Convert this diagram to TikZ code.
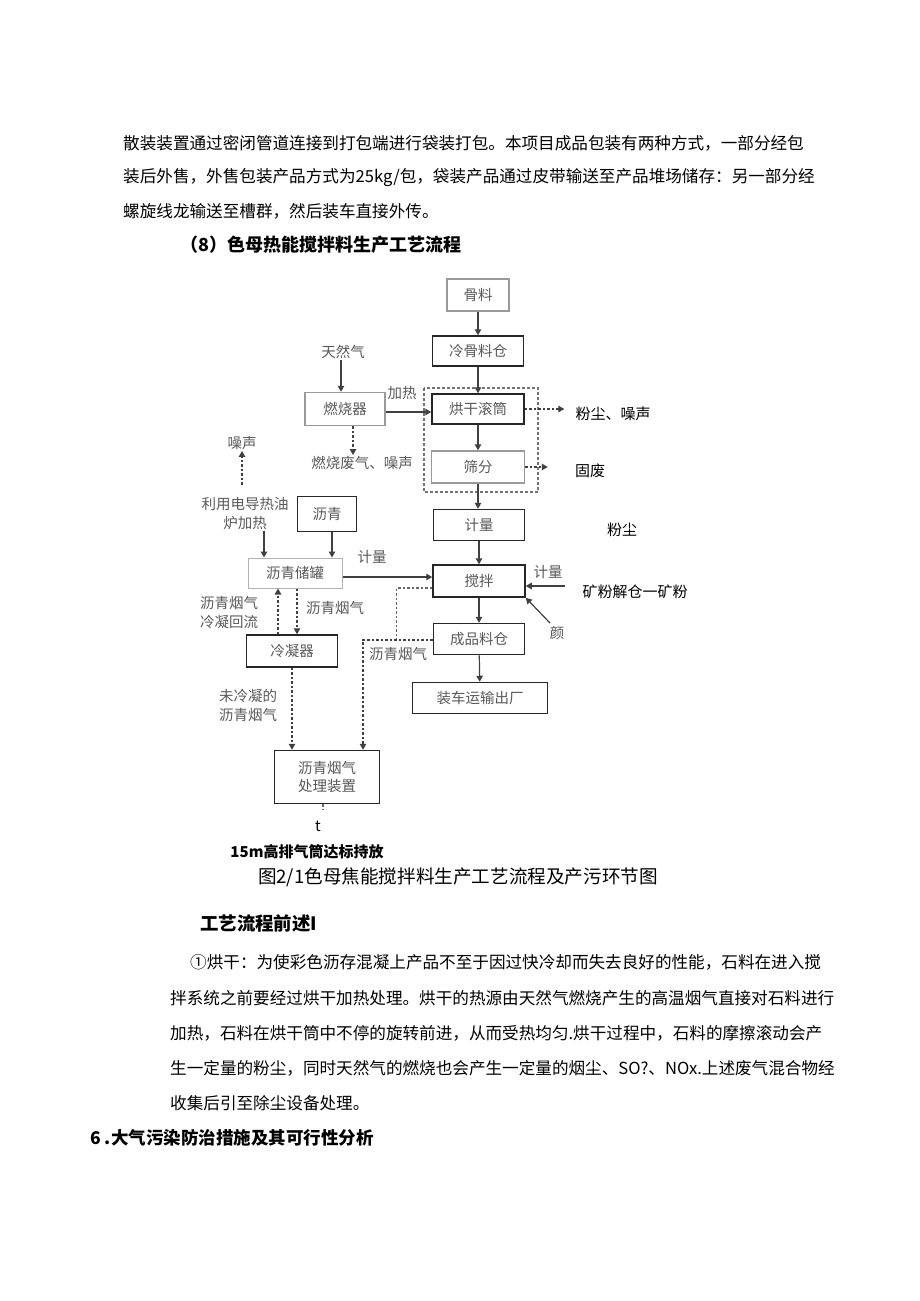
\documentclass[tikz,border=0pt]{standalone}
\usepackage{fontspec}
\setmainfont{Noto Sans CJK SC}
\usetikzlibrary{arrows.meta,positioning}
\tikzset{
  procbox/.style={draw=black!85,line width=1.5pt,text=black!65,font=\fontsize{14.5}{17}\selectfont,inner sep=1pt,align=center},
  fadebox/.style={procbox,draw=black!40},
  flow/.style={draw=black!75,line width=1.2pt,-{Triangle[length=6pt,width=6.5pt]}},
  dashflow/.style={flow,dash pattern=on 2.5pt off 2pt},
  dashline/.style={draw=black!60,line width=1.2pt,dash pattern=on 2.5pt off 2pt},
  lbl/.style={text=black!65,font=\fontsize{14.5}{19}\selectfont,inner sep=1pt,align=center},
  note/.style={font=\fontsize{15}{17}\selectfont,inner sep=1pt},
  upline/.style={anchor=west,inner sep=0pt,font=\fontsize{16.6}{20}\selectfont},
  lowline/.style={anchor=west,inner sep=0pt,font=\fontsize{16.6}{20}\selectfont},
}
\begin{document}
\begin{tikzpicture}[x=1pt,y=-1pt]
\useasboundingbox[fill=white] (0,0) rectangle (920,1301);
% ---- text above the chart ----
\node[upline] (pa) at (123,143) {散装装置通过密闭管道连接到打包端进行袋装打包。本项目成品包装有两种方式，一部分经包};
\node[upline] (pb) at (123,178) {装后外售，外售包装产品方式为25kg/包，袋装产品通过皮带输送至产品堆场储存：另一部分经};
\node[upline] (pc) at (123,211) {螺旋线龙输送至槽群，然后装车直接外传。};
\node[anchor=west,inner sep=0pt,font=\fontsize{18}{20}\selectfont\bfseries] (title) at (180,245) {（8）色母热能搅拌料生产工艺流程};
% ---- main column ----
\node[fadebox,minimum width=62pt,minimum height=32pt] (guliao) at (478,295) {骨料};
\node[procbox,minimum width=91pt,minimum height=30pt] (lenggu) at (478,351) {冷骨料仓};
\node[procbox,minimum width=92pt,minimum height=30pt] (honggan) at (478,409) {烘干滚筒};
\node[fadebox,minimum width=93pt,minimum height=32pt] (shaifen) at (478,467) {筛分};
\node[procbox,minimum width=91pt,minimum height=31pt] (jiliang) at (479,525) {计量};
\node[procbox,minimum width=92pt,minimum height=32pt] (jiaoban) at (479,581) {搅拌};
\node[procbox,minimum width=91pt,minimum height=31pt] (chengpin) at (479,639) {成品料仓};
\node[procbox,minimum width=135pt,minimum height=31pt] (zhuangche) at (480,698) {装车运输出厂};
\draw[draw=black!55,line width=1.1pt,dash pattern=on 3pt off 2pt] (424,388) rectangle (538,492);
% ---- burner and asphalt side ----
\node[lbl] (tianranqi) at (343,352) {天然气};
\node[fadebox,minimum width=80pt,minimum height=33pt] (ranshao) at (345,409) {燃烧器};
\node[lbl] (jiare) at (402,393) {加热};
\node[lbl] (feiqi) at (362,463) {燃烧废气、噪声};
\node[lbl] (zaosheng) at (242,443) {噪声};
\node[lbl] (dianre) at (245,514) {利用电导热油\\炉加热};
\node[procbox,minimum width=59pt,minimum height=35pt] (liqing) at (327,514) {沥青};
\node[procbox,draw=black!30,line width=1pt,minimum width=94pt,minimum height=30pt] (chuguan) at (295,573) {沥青储罐};
\node[lbl] (jlA) at (372,557) {计量};
\node[lbl] (jlB) at (548,572) {计量};
\node[lbl] (yan) at (557,633) {颜};
\node[lbl] (huiliu) at (229,612) {沥青烟气\\冷凝回流};
\node[lbl] (yanqiA) at (335,608) {沥青烟气};
\node[procbox,minimum width=91pt,minimum height=32pt] (lengning) at (292,651) {冷凝器};
\node[lbl] (yanqiB) at (398,654) {沥青烟气};
\node[lbl] (weileng) at (248,705) {未冷凝的\\沥青烟气};
\node[procbox,minimum width=105pt,minimum height=53pt,font=\fontsize{14.5}{18}\selectfont] (chuli) at (327,777) {沥青烟气\\处理装置};
% ---- outputs on the right ----
\node[note] (fcA) at (613,414) {粉尘、噪声};
\node[note] (gufei) at (590,471) {固废};
\node[note] (fcB) at (622,530) {粉尘};
\node[note] (kuangfen) at (635,592) {矿粉解仓一矿粉};
\coordinate (kfin) at (565,586);
\coordinate (yanin) at (550,623);
\coordinate (stack) at (323,810);
\node[note] (tee) at (318,826) {t};
\node[note,font=\fontsize{15}{17}\selectfont\bfseries] (paifang) at (307,852) {15m高排气筒达标持放};
\node[inner sep=0pt,font=\fontsize{18.6}{21}\selectfont] (caption) at (458,877) {图2/1色母焦能搅拌料生产工艺流程及产污环节图};
% ---- connectors ----
\draw[flow] (guliao) -- (lenggu);
\draw[flow] (lenggu) -- (honggan);
\draw[flow] (honggan) -- (shaifen);
\draw[flow] (shaifen.south) -- (shaifen.south |- jiliang.north);
\draw[flow] (jiliang) -- (jiaoban);
\draw[flow] (jiaoban) -- (chengpin);
\draw[flow] (chengpin) -- (zhuangche);
\draw[flow] ([xshift=-2pt]tianranqi.south) -- ([xshift=-2pt]tianranqi.south |- ranshao.north);
\draw[flow] ([yshift=-3pt]ranshao.east) -- ([yshift=-3pt]ranshao.east -| honggan.west);
\draw[dashflow] ([xshift=8pt]ranshao.south) -- ([xshift=8pt]ranshao.south |- feiqi.north);
\draw[dashflow,shorten >=10pt] (honggan.east) -- (honggan.east -| fcA.west);
\draw[dashflow,shorten >=26pt] (shaifen.east) -- (shaifen.east -| gufei.west);
\draw[dashflow] ([yshift=12pt]dianre.north -| zaosheng) -- (zaosheng.south);
\draw[flow] ([xshift=19pt]dianre.south) -- ([xshift=19pt]dianre.south |- chuguan.north);
\draw[flow] ([xshift=5pt]liqing.south) -- ([xshift=5pt]liqing.south |- chuguan.north);
\draw[flow] ([yshift=-4pt]chuguan.east) -- ([yshift=-4pt]chuguan.east -| jiaoban.west);
\draw[flow] (kfin) -- (kfin -| jiaoban.east);
\draw[flow] (yanin) -- (jiaoban.south east);
\draw[dashflow] ([xshift=-14pt]lengning.north) -- ([xshift=-14pt]lengning.north |- chuguan.south);
\draw[dashflow] ([xshift=5pt]lengning.north |- chuguan.south) -- ([xshift=5pt]lengning.north);
\draw[dashflow] (lengning.south) -- (lengning.south |- chuli.north);
\draw[dashline] ([yshift=-7pt]jiaoban.west) -| ([xshift=-36pt,yshift=-1pt]chengpin.west);
\draw[dashflow] ([yshift=-1pt]chengpin.west) -| ([xshift=36pt]chuli.north);
\draw[dashline] ([xshift=-4pt]chuli.south) -- (stack);
% ---- text below the chart ----
\node[anchor=west,inner sep=0pt,font=\fontsize{18.4}{20}\selectfont\bfseries] (shuoming) at (200,923) {工艺流程前述I};
\node[lowline] (qa) at (190,962) {①烘干：为使彩色沥存混凝上产品不至于因过快冷却而失去良好的性能，石料在进入搅};
\node[lowline] (qb) at (170,998) {拌系统之前要经过烘干加热处理。烘干的热源由天然气燃烧产生的高温烟气直接对石料进行};
\node[lowline] (qc) at (170,1033) {加热，石料在烘干筒中不停的旋转前进，从而受热均匀.烘干过程中，石料的摩擦滚动会产};
\node[lowline] (qd) at (170,1068) {生一定量的粉尘，同时天然气的燃烧也会产生一定量的烟尘、SO?、NOx.上述废气混合物经};
\node[lowline] (qe) at (170,1103) {收集后引至除尘设备处理。};
\node[anchor=west,inner sep=0pt,font=\fontsize{17.5}{20}\selectfont\bfseries] (sec) at (90,1138) {6 .大气污染防治措施及其可行性分析};
\end{tikzpicture}
\end{document}
